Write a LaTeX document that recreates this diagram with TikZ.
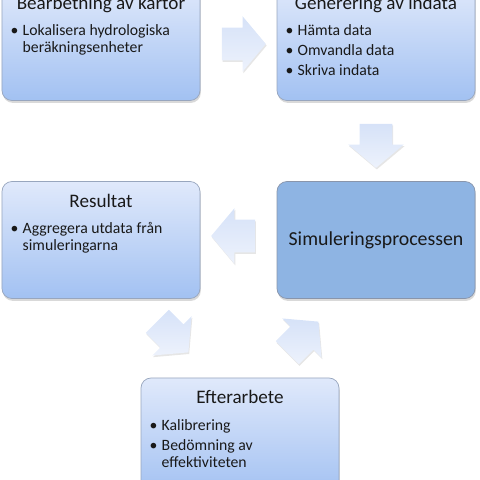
\documentclass[tikz,border=0pt]{standalone}
\usepackage{fontspec}
\setmainfont{Carlito}
\usetikzlibrary{shapes.arrows}
\usetikzlibrary{shadows}

\definecolor{boxtop}{HTML}{E0E9FB}
\definecolor{boxbottom}{HTML}{A2C1F2}
\definecolor{boxline}{HTML}{98A6BE}
\definecolor{simfill}{HTML}{8EB4E3}
\definecolor{arrowtop}{HTML}{D6E2F8}
\definecolor{arrowbottom}{HTML}{EDF2FC}

\tikzset{
    stepbox/.style={rounded corners=0.25cm, draw=boxline, line width=0.5pt,
        minimum width=4.95cm, minimum height=2.925cm, inner sep=0pt,
        drop shadow={shadow xshift=0.02cm, shadow yshift=-0.06cm, opacity=0.3}},
    gradbox/.style={stepbox, top color=boxtop, bottom color=boxbottom},
    title/.style={font=\fontsize{13.6}{16}\selectfont, text=black!90, inner sep=0pt},
    items/.style={font=\fontsize{11.2}{12.1}\selectfont, text=black!90, inner sep=0pt},
    flowarrow/.style={single arrow, draw=none, top color=arrowtop, bottom color=arrowbottom,
        minimum height=1.1cm, minimum width=1.375cm, single arrow head extend=0.2875cm,
        single arrow tip angle=100, inner sep=0pt, text height=0.4cm, text depth=0.4cm,
        drop shadow={shadow xshift=0.02cm, shadow yshift=-0.04cm, opacity=0.2}}
}

\begin{document}
\begin{tikzpicture}
    \path[use as bounding box, clip] (0,0) rectangle (12,12);

    % Bearbetning av kartor
    \node[gradbox] (bearb) at (2.525,10.95) {};
    \node[title, anchor=base] (bearbtitle) at ([yshift=-0.65cm]bearb.north) {Bearbetning av kartor};
    \node[items, anchor=base west] (bearbitem1) at ([xshift=0.22cm, yshift=-1.32cm]bearb.north west)
        {\makebox[0.3cm][l]{\textbullet}\parbox[t]{4.3cm}{Lokalisera hydrologiska\\beräkningsenheter}};

    % Generering av indata
    \node[gradbox] (gener) at (9.4,10.95) {};
    \node[title, anchor=base] (genertitle) at ([yshift=-0.65cm]gener.north) {Generering av indata};
    \node[items, anchor=base west] (generitem1) at ([xshift=0.22cm, yshift=-1.32cm]gener.north west)
        {\makebox[0.3cm][l]{\textbullet}Hämta data};
    \node[items, anchor=base west] (generitem2) at ([xshift=0.22cm, yshift=-1.82cm]gener.north west)
        {\makebox[0.3cm][l]{\textbullet}Omvandla data};
    \node[items, anchor=base west] (generitem3) at ([xshift=0.22cm, yshift=-2.32cm]gener.north west)
        {\makebox[0.3cm][l]{\textbullet}Skriva indata};

    % Simuleringsprocessen
    \node[stepbox, fill=simfill, draw=boxline!90!black, font=\fontsize{14.1}{17}\selectfont,
        text=black!90] (simul) at (9.4,6.0) {Simuleringsprocessen};

    % Resultat
    \node[gradbox] (result) at (2.525,6.0) {};
    \node[title, anchor=base] (resulttitle) at ([yshift=-0.65cm]result.north) {Resultat};
    \node[items, anchor=base west] (resultitem1) at ([xshift=0.22cm, yshift=-1.32cm]result.north west)
        {\makebox[0.3cm][l]{\textbullet}\parbox[t]{4.3cm}{Aggregera utdata från\\simuleringarna}};

    % Efterarbete
    \node[gradbox] (efter) at (6.0,1.0875) {};
    \node[title, anchor=base] (eftertitle) at ([yshift=-0.65cm]efter.north) {Efterarbete};
    \node[items, anchor=base west] (efteritem1) at ([xshift=0.22cm, yshift=-1.32cm]efter.north west)
        {\makebox[0.3cm][l]{\textbullet}Kalibrering};
    \node[items, anchor=base west] (efteritem2) at ([xshift=0.22cm, yshift=-1.82cm]efter.north west)
        {\makebox[0.3cm][l]{\textbullet}\parbox[t]{4.3cm}{Bedömning av\\effektiviteten}};

    % Arrows between the steps
    \node[flowarrow] (arrowbg) at (5.925,10.9) {};
    \node[flowarrow, rotate=-90] (arrowgs) at (9.4,8.525) {};
    \node[flowarrow, rotate=180] (arrowsr) at (6.0,6.1) {};
    \node[flowarrow, rotate=-45] (arrowre) at (4.2,3.7) {};
    \node[flowarrow, rotate=45] (arrowes) at (7.45,3.45) {};

\end{tikzpicture}
\end{document}
